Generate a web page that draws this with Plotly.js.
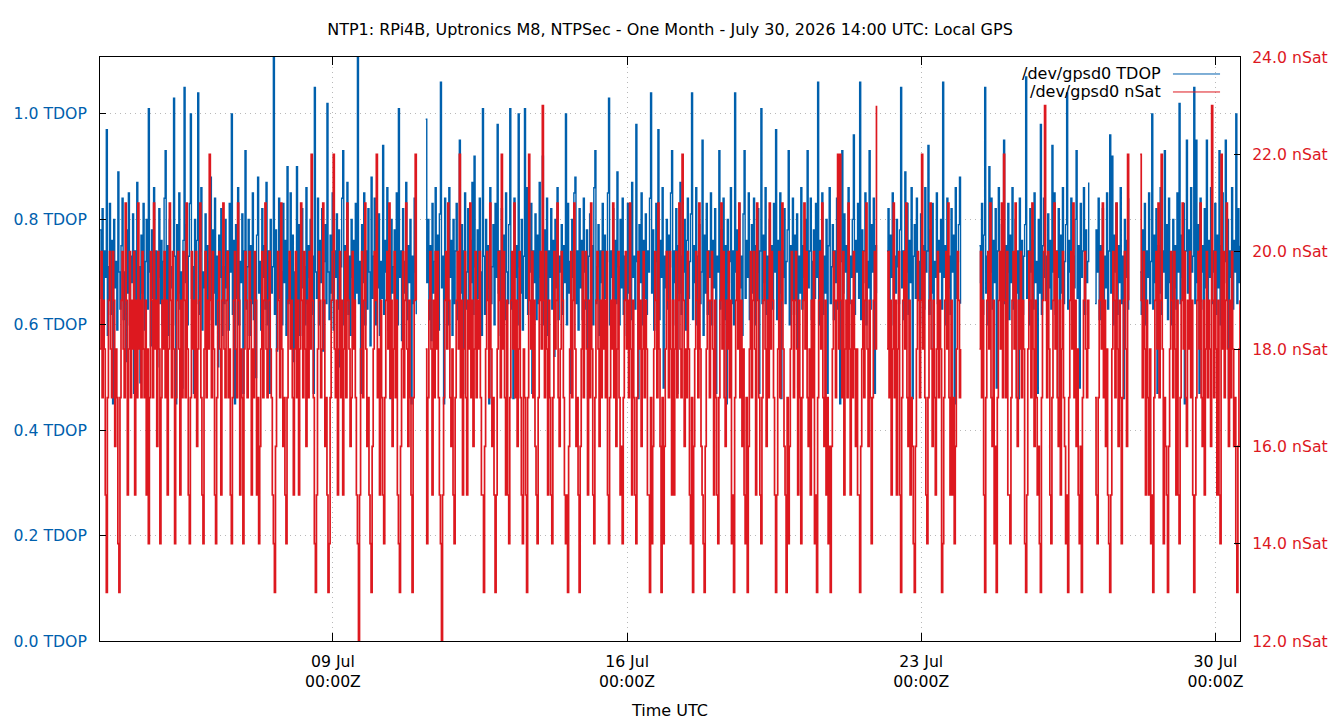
<!DOCTYPE html>
<html>
<head>
<meta charset="utf-8">
<script src="https://cdn.plot.ly/plotly-3.0.1.min.js"></script>
<style>
  html, body { margin: 0; padding: 0; background: #fff; }
  #chart { width: 1340px; height: 720px; }
</style>
</head>
<body>
<div id="chart"></div>
<script>
// gpsd0 samples: one reading every 36 minutes from the first sample on.
// null marks periods with no log data.
const sampleStart = '2026-07-03T11:00:00Z';
const sampleMinutes = 36;

// Satellites in use (nSat)
const nsatWeek1 = [
  18,20,17,19,18,15,13,17,19,20,18,17,20,19,16,18,17,14,13,17,
  19,20,18,17,21,19,15,18,20,17,19,18,20,15,19,17,21,18,19,17,
  20,18,17,19,15,18,14,17,20,19,17,21,18,19,16,20,18,14,17,19,
  18,20,17,19,15,18,21,19,17,20,18,14,17,19,20,18,15,19,17,20,
  19,17,21,18,15,14,17,20,18,19,17,20,16,18,19,21,17,15,14,18,
  20,17,19,18,22,19,17,20,18,15,14,17,19,20,18,15,19,21,18,17,
  19,20,17,18,15,14,17,19,20,18,17,21,19,15,18,17,14,18,20,19,
  17,18,20,19,15,18,17,20,19,15,17,14,16,18,20,17,19,21,18,17,
  19,20,18,17,15,14,13,16,18,20,19,17,21,18,16,17,15,14,17,19,
  20,18,19,17,15,18,20,17,19,15,18,21,19,17,20,18,16,19,17,20,
  18,22,19,17,14,13,15,18,20,19,17,18,21,19,16,17,15,13,14,17,
  19,20,22,18,17,19,15,18,20,17,19,15,18,20,17,21,19,18,16,17,
  20,18,19,17,15,14,12,15,18,20,17,19,21,18,16,17,15,14,13,16,
  18,20,19,22,17,18,15,19,17,15,14,17,19,20,18,21,17,19,16,18
];
const nsatWeek2 = [
  20,17,19,15,14,13,16,18,20,17,19,21,18,16,19,17,15,13,17,19,
  22,19,null,null,null,null,null,null,null,null,18,14,17,19,20,18,15,19,17,20,
  18,20,17,15,14,12,15,17,19,20,18,21,19,17,16,18,15,14,17,19,
  20,18,22,17,19,15,18,20,17,15,19,18,21,17,19,16,18,20,17,19,
  18,20,17,15,15,13,16,18,20,19,17,21,18,16,17,15,13,15,18,20,
  19,17,22,18,20,17,15,19,15,14,17,19,20,18,21,17,19,16,18,20,
  17,15,14,18,17,15,13,17,22,19,18,20,17,19,16,15,14,17,19,20,
  18,23,19,17,20,18,15,19,17,15,14,17,20,18,19,21,17,16,18,20,
  19,17,15,14,15,13,16,18,20,17,19,21,18,16,17,15,13,16,18,20,
  17,19,20,18,15,19,17,21,18,15,14,17,19,20,18,16,19,17,20,18,
  19,17,20,15,14,17,19,18,21,17,19,16,18,20,17,15,16,14,17,19,
  20,18,19,17,21,18,15,19,17,15,14,17,20,18,19,16,18,20,17,19,
  18,15,15,13,17,14,16,18,20,19,17,21,18,16,13,17,14,16,18,20,
  19,17,20,18,15,19,15,18,20,17,19,21,18,17,22,19,16,18,17,20
];
const nsatWeek3 = [
  18,15,14,17,13,16,18,20,19,17,21,18,16,15,14,13,16,18,20,19,
  17,19,20,18,15,19,17,15,14,17,19,21,18,20,17,16,19,18,20,17,
  19,14,15,13,17,19,20,18,21,17,19,16,18,15,14,17,13,16,18,20,
  17,19,20,18,15,21,19,17,15,14,17,19,20,18,16,19,17,21,18,20,
  19,17,15,13,15,18,20,17,19,21,18,16,15,13,17,14,16,18,20,19,
  17,19,20,18,15,19,17,14,17,19,21,18,20,17,16,18,15,19,17,20,
  14,15,13,17,19,20,18,21,17,16,19,15,17,14,16,13,16,18,20,19,
  17,19,22,18,22,19,17,20,15,18,19,17,21,18,15,19,17,20,18,16,
  18,15,15,13,16,18,20,17,19,21,18,16,19,17,14,17,19,20,18,23,
  null,null,null,null,null,null,null,null,null,18,20,17,19,15,18,21,17,19,15,18,
  20,15,13,17,19,20,18,21,17,16,19,15,17,16,14,13,16,18,20,19,
  17,19,22,18,20,17,15,14,17,19,21,18,16,19,17,15,18,20,17,19,
  18,13,14,17,19,20,18,21,17,15,19,15,17,14,16,18,20,19,17,18,
  null,null,null,null,null,null,null,null,null,null,null,null,null,null,null,null,null,18,20,17
];
const nsatWeek4 = [
  19,15,13,17,19,20,18,21,17,16,19,14,16,13,17,19,20,18,21,17,
  22,19,17,20,15,15,14,17,19,20,18,21,17,16,19,18,20,17,19,18,
  14,13,15,18,20,19,17,21,18,16,19,17,15,16,14,13,17,19,20,23,
  19,17,20,18,15,14,17,19,21,18,20,17,16,19,15,18,20,17,16,14,
  15,13,17,19,20,18,21,17,19,16,18,15,14,16,13,17,19,20,18,17,
  19,18,null,null,null,null,null,17,15,14,17,19,20,18,21,17,19,16,18,15,
  14,13,15,18,20,19,17,21,18,16,19,17,14,17,19,20,18,16,22,19,
  null,null,null,null,null,null,null,null,null,null,22,19,17,20,18,15,19,17,15,18,
  14,15,13,17,19,20,18,21,17,19,22,18,14,17,16,15,13,16,18,20,
  19,17,20,18,15,19,15,14,17,19,21,18,20,17,16,19,18,20,17,19,
  15,13,15,17,19,20,18,21,17,16,19,15,18,20,17,19,18,16,23,19,
  17,20,18,15,19,15,14,22,18,20,17,19,21,18,16,19,17,20,18,16,
  17,14,13,16,18,19
];

// Time dilution of precision (TDOP)
const tdopWeek1 = [
  .78,.65,.82,.6,.74,.69,.97,.58,.71,.83,.62,.76,.45,.8,.67,.72,.59,.89,.7,.63,
  .75,.84,.61,.7,.53,.78,.66,.85,.6,.73,.68,.81,.47,.74,.64,.87,.62,.71,.49,.77,
  .66,.83,.59,.72,.8,.63,1.01,.7,.56,.78,.65,.86,.61,.74,.52,.69,.82,.64,.76,.6,
  .72,.84,.93,.62,.75,.58,.8,.67,.71,.6,1.03,.73,.45,.79,.66,.85,.63,.7,.48,.76,
  1.05,.68,.79,.6,.73,.83,1.0,.65,.71,.47,.8,.64,.76,1.04,.62,.74,.86,.59,.7,.67,
  .81,.63,.75,.56,.72,.88,.61,.78,.66,.84,.6,.73,.52,.77,.69,.82,.58,.71,.64,.8,
  .67,.74,.59,.83,.7,1.0,.62,.76,.45,.79,.65,.86,.6,.72,.68,.81,.47,.74,.93,.63,
  .71,.8,.58,.75,.64,.85,.61,.73,.5,.77,.88,.66,.72,.59,.82,.69,.75,.63,.87,.6,
  .74,.47,.8,.66,.71,1.12,.62,.78,.55,.73,.84,.65,.7,.6,.83,.68,.76,.58,.9,.64,
  .72,.85,.61,.77,.53,.7,.66,.9,.63,.79,.58,.74,.82,.67,.71,.6,.86,.64,.75,.69,
  .8,.62,.73,.47,1.05,.7,.65,.84,.6,.76,.68,.82,.55,.72,.79,.64,1.02,.7,.61,.77,
  .66,.85,.59,.74,.69,.81,.63,.78,.52,.71,.84,.93,.6,.75,.67,.87,.62,.73,.58,.8,
  .69,.76,.61,.83,.66,1.12,.64,.72,.47,.79,.68,.85,.6,.74,.63,.82,.7,.56,.88,.65,
  .73,.84,.6,.77,.67,.81,.58,.72,.65,.94,.62,.76,.7,.86,.59,.74,.46,.8,.66,.71
];
const tdopWeek2 = [
  .78,.63,.85,.6,1.01,.69,.74,.57,.82,.66,.72,.87,.61,.75,.68,.8,.45,.73,.64,.84,
  .7,.62,null,null,null,null,null,null,null,null,.99,.68,.8,.61,.75,.57,.83,.66,.72,.86,
  .63,.77,.59,.81,1.06,.67,.73,.45,.84,.65,.71,.6,.86,.69,.76,.58,.8,.64,.74,.83,
  .61,.72,.95,.66,.79,.47,.74,.85,.63,.7,.82,.6,.76,.68,.87,.62,.92,.71,.59,.78,
  .65,.84,.7,.58,1.01,.73,.62,.8,.67,.75,.45,.86,.64,.71,.79,.6,.83,.69,.98,.66,
  .74,.58,.82,.68,.77,.61,.85,.7,.64,.79,1.01,.63,.72,.46,.84,.69,.75,.6,1.0,.71,
  .66,.8,.59,.73,1.01,.65,.86,.62,.76,.7,.83,.47,.74,.68,.81,.61,.77,.64,.87,.69,
  .72,.92,.6,.78,.66,.84,.58,.74,.69,.82,.63,.76,.54,.8,.67,.86,.61,.73,.7,.79,
  .62,.75,.68,1.0,.6,.83,.66,.72,.47,.8,.69,.85,.88,.64,.74,.59,.82,.67,.76,.61,
  .84,.7,.63,.78,.46,.73,.81,.66,.75,.6,.86,.93,.64,.71,.79,.58,.74,.68,.83,.62,
  .77,.65,.72,.85,1.03,.6,.74,.69,.82,.47,.76,.64,.89,.71,.6,.8,.67,.84,.62,.73,
  .7,.58,.83,.66,.75,.61,.87,.69,.73,.63,.98,.72,.46,.79,.68,.85,.6,.76,.65,.81,
  .62,.74,.7,.84,1.04,.66,.78,.59,.72,.83,.64,.97,.61,.76,.69,.86,.48,.73,.67,.8,
  .63,.77,.71,.85,.93,.6,.74,.68,.82,.47,.75,.66,.87,.62,.73,.7,.8,.59,.76,.84
];
const tdopWeek3 = [
  .65,.72,.81,1.04,.61,.75,.68,.86,.6,.73,.79,.64,.7,.95,.58,.77,.66,.83,.62,.74,
  .69,.85,.6,.76,.67,.82,.47,.73,.7,.93,.63,.78,.66,.84,.61,.75,.45,.8,.68,.72,
  .86,.64,.74,.6,1.04,.7,.78,.62,.83,.67,.73,.58,.81,.93,.65,.76,.69,.85,.61,.72,
  .79,.66,.84,.6,.75,.7,.82,.47,.74,1.01,.64,.77,.68,.86,.62,.73,.59,.8,.67,.75,
  .63,.83,.7,.97,.61,.76,.66,.85,.46,.74,.69,.82,.64,.72,.78,.93,.6,.75,.68,.84,
  .62,.77,.7,.81,.48,.73,.66,.86,.63,.75,.69,.8,.6,.93,.67,.74,.84,.61,.72,.78,
  .65,.83,.69,1.06,.6,.76,.7,.85,.62,.73,.66,.8,.47,.75,.86,.64,.71,.79,.61,.74,
  .68,.84,.63,.77,.45,.72,.93,.66,.81,.7,.75,.6,.86,.64,.73,.69,.8,.96,.62,.76,
  .7,.83,.65,1.06,.61,.78,.68,.74,.85,.6,.72,.67,.93,.63,.79,.7,.84,.47,.75,.66,
  null,null,null,null,null,null,null,null,null,.74,.82,.63,.77,.69,.85,.6,.73,.66,.8,.71,
  .64,.78,1.05,.67,.74,.61,.89,.7,.83,.62,.76,.68,.86,.46,.73,.79,.65,.84,.69,.72,
  .6,.81,.67,.75,.63,.86,.7,.74,.94,.62,.78,.66,.83,.47,.72,.69,.85,.64,.76,.7,
  .8,.63,1.06,.69,.75,.6,.84,.67,.73,.62,.82,.7,.77,.45,.86,.65,.72,.79,.88,.64,
  null,null,null,null,null,null,null,null,null,null,null,null,null,null,null,null,null,.75,.68,.83
];
const tdopWeek4 = [
  .62,.77,1.05,.66,.73,.6,.9,.7,.84,.63,.76,.68,.82,.48,.74,.86,.65,.71,.79,.67,
  .95,.64,.75,.7,.83,.61,.77,.68,.86,.63,.72,.8,.66,.74,.46,.84,.69,.76,.62,.73,
  .79,1.07,.65,.74,.6,.82,.7,.76,.63,.85,.68,.72,.47,.8,.66,.98,.62,.75,.84,.69,
  .73,.6,.81,.67,.76,.63,.94,.7,.85,.62,.74,.69,.82,.45,.77,.66,.86,.64,.72,.79,
  1.04,.63,.76,.7,.84,.61,.73,.67,.8,.93,.65,.75,.48,.83,.69,.74,.86,.62,.78,.68,
  .72,.87,null,null,null,null,null,.64,.78,.7,.84,.61,.75,.68,.82,.6,.73,.67,.85,.63,
  .74,.96,.66,.92,.6,.77,.7,.83,.62,.75,.68,.86,.64,.73,.46,.8,.69,.76,.63,.84,
  null,null,null,null,null,null,null,null,null,null,.7,.62,.78,.66,.83,.6,.74,.69,.85,.64,
  .72,1.0,.63,.77,.68,.82,.47,.75,.66,.86,.62,.74,.7,.93,.65,.79,.61,.84,.68,.73,
  .6,.8,.67,.75,.63,.85,.7,1.02,.64,.77,.69,.83,.45,.74,.95,.66,.78,.62,.86,.7,
  .73,1.05,.64,.95,.68,.79,.47,.84,.7,.75,.63,.82,.67,.95,.61,.76,.69,.86,.64,.74,
  .7,.83,.62,.77,.67,.93,.6,.75,.85,.64,.72,.95,.68,.8,.46,.74,.69,.86,.63,.76,
  .7,1.0,.64,.82,.68,.75
];

// Axis ticks
const dayTicks = ['2026-07-09 00:00', '2026-07-16 00:00', '2026-07-23 00:00', '2026-07-30 00:00'];
const dayTickLabels = ['09 Jul<br>00:00Z', '16 Jul<br>00:00Z', '23 Jul<br>00:00Z', '30 Jul<br>00:00Z'];
const tdopTicks = [0, 0.2, 0.4, 0.6, 0.8, 1.0];
const tdopTickLabels = ['0.0 TDOP', '0.2 TDOP', '0.4 TDOP', '0.6 TDOP', '0.8 TDOP', '1.0 TDOP'];
const nsatTicks = [12, 14, 16, 18, 20, 22, 24];
const nsatTickLabels = ['12.0 nSat', '14.0 nSat', '16.0 nSat', '18.0 nSat', '20.0 nSat', '22.0 nSat', '24.0 nSat'];

const seriesNames = ['/dev/gpsd0 TDOP', '/dev/gpsd0 nSat'];
const BLUE = '#0060ad';
const RED = '#dd181f';
const FONT = 'DejaVu Sans, Liberation Sans, sans-serif';
const GRID = '#b8b8b8';

const tdop = [].concat(tdopWeek1, tdopWeek2, tdopWeek3, tdopWeek4);
const nsat = [].concat(nsatWeek1, nsatWeek2, nsatWeek3, nsatWeek4);

// Sample timestamps (UTC) on the regular logging interval
const t0 = Date.parse(sampleStart);
const times = nsat.map((_, i) =>
  new Date(t0 + i * sampleMinutes * 60000).toISOString().slice(0, 19).replace('T', ' '));

// Each reading holds until the next one, so draw the series as steps
const traces = [
  {
    x: times, y: tdop, name: seriesNames[0], type: 'scatter', mode: 'lines',
    line: { color: BLUE, width: 1.4, shape: 'hv' }, connectgaps: false, yaxis: 'y'
  },
  {
    x: times, y: nsat, name: seriesNames[1], type: 'scatter', mode: 'lines',
    line: { color: RED, width: 1.7, shape: 'hv' }, connectgaps: false, yaxis: 'y2'
  }
];

// Key in the top-right corner: label text followed by a line sample
const keyRows = [0.9709, 0.9401];
const keyAnnotations = seriesNames.map((n, k) => ({
  xref: 'paper', yref: 'paper', x: 0.9325, y: keyRows[k],
  xanchor: 'right', yanchor: 'middle', showarrow: false,
  text: n, font: { family: FONT, size: 16, color: '#000' }
}));
const keyShapes = [BLUE, RED].map((c, k) => ({
  type: 'line', xref: 'paper', yref: 'paper',
  x0: 0.9412, x1: 0.9825, y0: keyRows[k], y1: keyRows[k],
  line: { color: c, width: 1 }
}));

const layout = {
  width: 1340, height: 720,
  margin: { l: 100, r: 100, t: 57, b: 79, pad: 0 },
  paper_bgcolor: '#fff', plot_bgcolor: '#fff',
  showlegend: false,
  font: { family: FONT, size: 16, color: '#000' },
  title: {
    text: 'NTP1: RPi4B, Uptronics M8, NTPSec - One Month - July 30, 2026 14:00 UTC: Local GPS',
    font: { family: FONT, size: 16, color: '#000' },
    x: 0.5, xref: 'paper', xanchor: 'center',
    y: 0.9597, yref: 'container', yanchor: 'middle'
  },
  xaxis: {
    type: 'date',
    range: ['2026-07-03 11:00', '2026-07-30 14:00'],
    tickmode: 'array', tickvals: dayTicks, ticktext: dayTickLabels,
    ticks: 'inside', ticklen: 8, tickwidth: 1, tickcolor: '#000',
    showline: true, linecolor: '#000', linewidth: 1, mirror: 'ticks',
    showgrid: true, gridcolor: GRID, griddash: '1px,4px', gridwidth: 1,
    zeroline: false,
    tickfont: { family: FONT, size: 15.7, color: '#000' },
    ticklabelstandoff: 6,
    title: { text: 'Time UTC', font: { family: FONT, size: 16, color: '#000' }, standoff: 14 }
  },
  yaxis: {
    range: [0, 1.108],
    tickmode: 'array', tickvals: tdopTicks, ticktext: tdopTickLabels,
    ticks: 'inside', ticklen: 6, tickwidth: 1, tickcolor: '#000',
    showline: true, linecolor: '#000', linewidth: 1, mirror: false,
    showgrid: true, gridcolor: GRID, griddash: '1px,4px', gridwidth: 1,
    zeroline: false,
    tickfont: { family: FONT, size: 15.7, color: BLUE },
    ticklabelstandoff: 9
  },
  yaxis2: {
    overlaying: 'y', side: 'right', anchor: 'x',
    range: [12, 24],
    tickmode: 'array', tickvals: nsatTicks, ticktext: nsatTickLabels,
    ticks: 'inside', ticklen: 6, tickwidth: 1, tickcolor: '#000',
    showline: true, linecolor: '#000', linewidth: 1,
    showgrid: false, zeroline: false,
    tickfont: { family: FONT, size: 15.7, color: RED },
    ticklabelstandoff: 8
  },
  annotations: keyAnnotations,
  shapes: keyShapes
};

Plotly.newPlot('chart', traces, layout, { displayModeBar: false, staticPlot: true });
</script>
</body>
</html>
